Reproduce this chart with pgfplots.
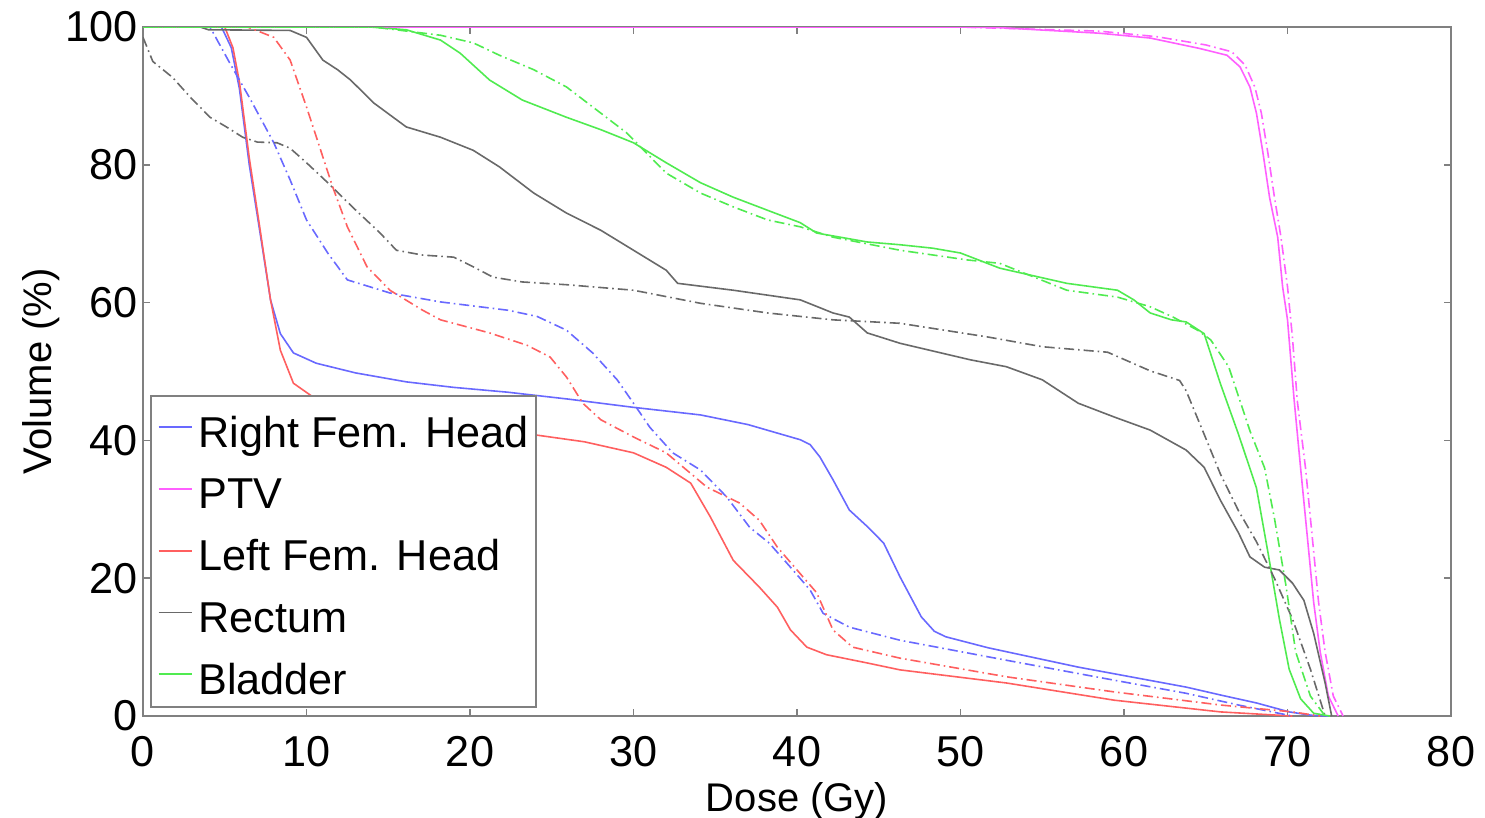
\documentclass[border=0pt]{standalone}
\usepackage{fontspec}
\setmainfont{Liberation Sans}
\usepackage{pgfplots}
\pgfplotsset{compat=1.18}
\usetikzlibrary{calc}

\definecolor{cblue}{RGB}{105,105,255}
\definecolor{cmag}{RGB}{255,95,255}
\definecolor{cred}{RGB}{255,95,95}
\definecolor{cgray}{RGB}{105,105,105}
\definecolor{cgreen}{RGB}{80,235,80}
\definecolor{frame}{RGB}{128,128,128}

\tikzset{dashdot/.style={dash pattern=on 2.5pt off 1pt on 0.4pt off 1pt}}

\begin{document}
\begin{tikzpicture}
\begin{axis}[
  name=ax,
  scale only axis, width=327pt, height=172.25pt,
  xmin=0, xmax=80, ymin=0, ymax=100,
  xtick={0,10,...,80}, ytick={0,20,...,100},
  tick align=inside, major tick length=1.75pt,
  axis line style={draw=frame, line width=0.4pt},
  tick style={draw=frame, line width=0.4pt},
  /pgf/number format/assume math mode=true,
  tick label style={font=\fontsize{10.8}{13}\selectfont},
  xticklabel style={yshift=-1.6pt},
  yticklabel style={xshift=2.2pt},
  label style={font=\fontsize{10.8}{13}\selectfont},
  xlabel={Dose (Gy)}, ylabel={Volume (\%)},
  every axis x label/.style={at={(axis description cs:0.5,-0.139)}, anchor=base},
  every axis y label/.style={at={(axis description cs:-0.0696,0.5)}, anchor=base, rotate=90},
  legend style={
    at={(axis description cs:0.00535,0.0116)}, anchor=south west,
    draw=frame, line width=0.4pt, fill=white,
    inner xsep=1.75pt, inner ysep=2pt,
    font=\fontsize{10.8}{13}\selectfont,
    row sep=3.44pt, column sep=1.5pt,
    nodes={inner sep=0pt, text height=10.75pt, text depth=1.25pt, anchor=base west},
  },
  legend cell align=left,
  legend image code/.code={\draw[#1, solid] (0pt,5pt) -- (8.25pt,5pt);},
  every axis plot/.append style={line width=0.4pt},
]

% plan A (solid)
\addplot[cblue] coordinates {
  (0,100) (4.8,100) (5.4,97) (5.9,91) (6.5,80) (7.2,69.5) (7.8,60.4) (8.4,55.5)
  (9.2,52.7) (10.6,51.2) (13,49.8) (16.1,48.5) (19,47.7) (22.3,47.0) (26,46.0)
  (30,44.8) (34.1,43.7) (37,42.3) (40.2,40.1) (40.8,39.4) (41.4,37.6) (42.2,34.3)
  (43.2,29.9) (44.3,27.5) (45.3,25.1) (46.3,20.2) (47.6,14.4) (48.4,12.3)
  (49.1,11.5) (51.7,9.9) (57.2,7.1) (63.8,4.2) (66,3.0) (68.1,1.9) (70.1,0.6)
  (71.5,0.1) (72.5,0)};
\addlegendentry{Right Fem. Head}

\addplot[cmag] coordinates {
  (0,100) (50,100) (52.4,99.9) (58.5,99.1) (61.6,98.4) (64.6,96.9) (66.3,95.9)
  (67.1,94.2) (67.7,91.3) (68.1,87.5) (68.5,81.7) (68.9,75.3) (69.4,69.5)
  (69.7,62.3) (70,57.5) (70.4,46) (70.8,36) (71.2,26.3) (71.6,16.5) (72.0,9.3)
  (72.5,2.9) (73.1,0)};
\addlegendentry{PTV}

\addplot[cred] coordinates {
  (0,100) (5.0,100) (5.5,97) (5.9,92) (6.5,81) (7.2,70) (7.8,60.4) (8.4,53.1)
  (9.2,48.3) (10.4,46.3) (12,45) (16,43.3) (20,42) (24,40.8) (27,39.8) (30,38.2)
  (32,36.1) (33.5,33.8) (34.7,28.9) (36.1,22.6) (37.7,18.7) (38.8,15.8) (39.6,12.5)
  (40.6,10.0) (41.8,8.9) (44.3,7.7) (46.3,6.7) (52.8,4.8) (59.4,2.3) (65.9,0.6)
  (70.3,0)};
\addlegendentry{Left Fem. Head}

\addplot[cgray] coordinates {
  (0,100) (3.5,100) (4,99.6) (9,99.5) (10.0,98.5) (11.0,95.2) (11.9,93.8)
  (12.7,92.3) (14.1,89) (16.1,85.5) (18.2,84) (20.2,82.1) (21.8,79.7) (23.9,75.9)
  (25.9,73) (28,70.5) (30,67.6) (32,64.7) (32.7,62.8) (36.1,61.8) (40.2,60.4)
  (42.2,58.5) (43.2,57.9) (44.3,55.6) (46.3,54.1) (50.6,51.7) (52.8,50.7)
  (55.0,48.8) (57.2,45.4) (59.4,43.4) (61.6,41.5) (63.8,38.6) (64.9,36.1)
  (65.9,31.3) (67.0,26.6) (67.7,23.1) (68.6,21.6) (69.5,21.2) (70.3,19.3)
  (71.0,16.8) (71.6,12.0) (72.3,4.8) (72.7,0)};
\addlegendentry{Rectum}

\addplot[cgreen] coordinates {
  (0,100) (13.9,100) (16.1,99.6) (18.2,98.1) (19.4,96.2) (21.2,92.3) (23.2,89.4)
  (25.9,86.9) (28,85.1) (30,83.2) (32,80.3) (34.1,77.4) (36.1,75.3) (38.2,73.4)
  (40.2,71.6) (41.2,70.1) (44.3,68.8) (46.3,68.4) (48.3,67.9) (50,67.2) (52.4,65)
  (56.5,62.8) (59.6,61.8) (60.6,60.4) (61.6,58.5) (62.9,57.5) (63.8,57.2)
  (64.9,55.5) (65.9,48.2) (67.0,40.9) (68.1,33.1) (68.8,23.8) (69.5,14.1)
  (70.1,6.8) (70.8,2.5) (71.6,0.4) (72.6,0)};
\addlegendentry{Bladder}

% plan B (dash-dot)
\addplot[cblue, dashdot, forget plot] coordinates {
  (0,100) (4.1,100) (5.3,94.8) (6.5,89.8) (8.0,83.2) (9.0,77.8) (10.0,72)
  (11.3,67.2) (12.5,63.3) (15.1,61.4) (18.2,60.1) (22.3,58.9) (24.1,58.0)
  (25.9,56) (27.5,52.7) (29.0,48.8) (30,45.4) (31,41.9) (32.4,38.2) (34.1,35.7)
  (35.7,31.8) (37.1,27.4) (38.3,25.1) (39.6,21.6) (40.8,18.3) (41.6,14.9)
  (43.2,12.9) (46.3,11.0) (52.8,8.1) (59.4,5.2) (63.8,3.3) (67.0,1.6) (70.3,0)};

\addplot[cmag, dashdot, forget plot] coordinates {
  (0,100) (50,100) (58.5,99.4) (62,98.6) (65,97.4) (66.6,96.4) (67.4,94.5)
  (68,91.3) (68.4,87.5) (68.8,81.7) (69.2,75.3) (69.6,69.5) (70,62.3) (70.3,55)
  (70.6,45.7) (71.1,36) (71.5,26.3) (71.9,16.5) (72.3,9.3) (72.8,2.9) (73.4,0)};

\addplot[cred, dashdot, forget plot] coordinates {
  (0,100) (6.4,100) (8.0,98.5) (9.0,95.2) (10.0,88.4) (10.8,82.6) (11.6,76.8)
  (12.5,71) (13.7,65.2) (15.1,61.8) (17.1,58.9) (18.2,57.5) (21.2,55.6)
  (23.5,53.8) (24.9,52.1) (25.9,49.2) (26.9,45.4) (28.0,43) (30,40.5) (32,38.2)
  (34.5,33.2) (36.5,30.9) (37.7,28.4) (38.8,24.5) (40,21.2) (41.2,17.9)
  (42.2,12.5) (43.4,10) (46.3,8.4) (52.8,5.7) (59.4,3.5) (65.9,1.6) (70.3,0.6)
  (72,0)};

\addplot[cgray, dashdot, forget plot] coordinates {
  (0,98.5) (0.6,95) (1.8,92.7) (2.9,89.8) (4.1,86.9) (5.1,85.5) (6.1,84)
  (7.0,83.3) (8.2,83.2) (9.0,82.4) (10.0,80.3) (11.3,77.4) (12.8,73.9)
  (14.5,70.1) (15.5,67.6) (17.1,66.9) (19.0,66.6) (20.2,65.2) (21.4,63.7)
  (23.2,63.0) (25.9,62.6) (30,61.8) (34.1,59.9) (38.2,58.5) (42.2,57.5)
  (46.3,57) (51.7,55) (55.0,53.6) (59.0,52.8) (61.6,50.1) (63.4,48.7)
  (63.8,47.2) (64.9,40.9) (65.9,35.1) (67.0,29.8) (68.1,25.3) (69.2,20)
  (70.3,14.1) (71.4,6.8) (72.3,0)};

\addplot[cgreen, dashdot, forget plot] coordinates {
  (0,100) (14.1,100) (18.2,98.8) (20.2,97.7) (21.8,95.9) (23.9,93.8) (25.9,91.3)
  (28,87.5) (29.6,84.6) (30.8,81.7) (32,78.8) (34.1,75.9) (36.1,73.9) (38.2,72)
  (40.2,71) (42.2,69.5) (46.3,67.6) (50.4,66.2) (52.4,65.7) (56.5,61.8)
  (59.6,60.8) (61.6,59.4) (63,57.9) (64.5,56) (65.3,54.6) (66.4,50.7)
  (67.7,41.4) (68.6,36) (69.2,28.7) (69.9,19) (70.5,9.3) (71.4,2.9) (72.3,0)};

\end{axis}
\pgfresetboundingbox
\path[use as bounding box] ($(ax.south west)+(-35.75pt,-25.25pt)$) rectangle ($(ax.north east)+(8.5pt,6.75pt)$);
\end{tikzpicture}
\end{document}
